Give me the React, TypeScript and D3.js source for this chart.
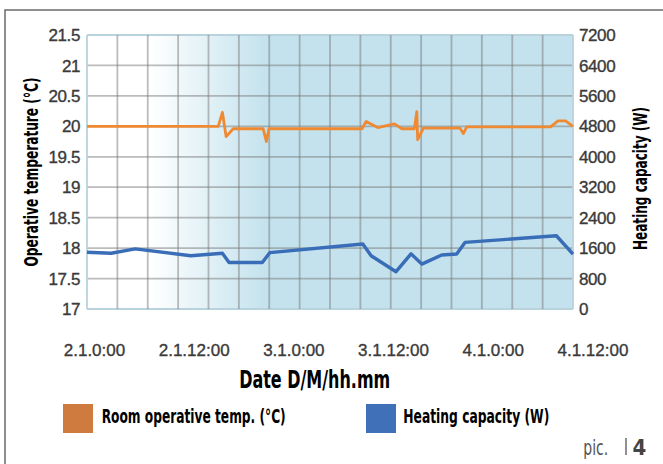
import React from "react";
import * as d3 from "d3";

// ---- data (hours from 2.1 0:00) ----
const tempHours = [-0.9, 14.9, 15.4, 15.85, 16.7, 20.3, 20.7, 21.0, 32.2, 32.7, 34.1, 36.1, 37.0, 38.5, 38.8, 38.9, 39.6, 44.0, 44.4, 44.8, 54.9, 55.8, 56.7, 57.6];
const tempValues = [20.0, 20.0, 20.23, 19.83, 19.96, 19.96, 19.75, 19.96, 19.96, 20.08, 19.98, 20.04, 19.96, 19.96, 20.24, 19.78, 19.97, 19.97, 19.88, 19.99, 19.99, 20.09, 20.09, 20.0];

const heatHours = [-0.9, 2.0, 4.9, 11.6, 15.4, 16.2, 20.2, 21.1, 32.3, 33.3, 36.3, 38.1, 39.4, 41.8, 43.6, 44.6, 55.6, 57.6];
const heatValues = [1490, 1464, 1580, 1400, 1464, 1220, 1220, 1480, 1708, 1400, 980, 1450, 1180, 1420, 1445, 1750, 1925, 1440];

const xTickHours = [0, 12, 24, 36, 48, 60];
const xTickLabels = ["2.1.0:00", "2.1.12:00", "3.1.0:00", "3.1.12:00", "4.1.0:00", "4.1.12:00"];
const leftTicks = [17, 17.5, 18, 18.5, 19, 19.5, 20, 20.5, 21, 21.5];
const rightTicks = [0, 800, 1600, 2400, 3200, 4000, 4800, 5600, 6400, 7200];

const W = 663;
const H = 464;
const plot = { left: 87, right: 573, top: 35, bottom: 309 };

const x = d3.scaleLinear().domain([-0.9, 57.6]).range([plot.left, plot.right]);
const yL = d3.scaleLinear().domain([17, 21.5]).range([plot.bottom, plot.top]);
const yR = d3.scaleLinear().domain([0, 7200]).range([plot.bottom, plot.top]);

const tickFont = "'Liberation Sans', Arial, sans-serif";
const narrowBold = "'Liberation Sans Narrow', 'DejaVu Sans Condensed', Arial, sans-serif";

export default function App() {
  const tempLine = d3
    .line<number>()
    .x((d, i) => x(tempHours[i]))
    .y((d) => yL(d));
  const heatLine = d3
    .line<number>()
    .x((d, i) => x(heatHours[i]))
    .y((d) => yR(d));

  const [d0, d1] = x.domain();
  const vGrid = d3.range(17).map((i) => x(d0 + ((d1 - d0) * i) / 16));

  const tickStyle = {
    fontFamily: tickFont,
    fontSize: 17,
    fill: "#3a3a3a",
    stroke: "#3a3a3a",
    strokeWidth: 0.35,
  } as const;

  return (
    <svg
      width={W}
      height={H}
      style={{ position: "absolute", left: 0, top: 0, background: "#fff" }}
    >
      <defs>
        <linearGradient id="bg" gradientUnits="userSpaceOnUse" x1={150} x2={268} y1={0} y2={0}>
          <stop offset="0" stopColor="#ffffff" />
          <stop offset="1" stopColor="#c3e2ed" />
        </linearGradient>
      </defs>

      {/* frame */}
      <path d={`M5,${H} V10 H${W}`} fill="none" stroke="#6b6b6b" strokeWidth={1.5} />

      {/* plot background */}
      <rect
        x={plot.left}
        y={plot.top}
        width={plot.right - plot.left}
        height={plot.bottom - plot.top}
        fill="url(#bg)"
      />

      {/* grid */}
      {leftTicks.map((t, i) => {
        const edge = i === 0 || i === leftTicks.length - 1;
        return (
          <line
            key={"h" + t}
            x1={plot.left}
            x2={plot.right}
            y1={yL(t)}
            y2={yL(t)}
            stroke={edge ? "#b9d3dc" : "#7a7a7a"}
            strokeOpacity={edge ? 1 : 0.5}
            strokeWidth={1.8}
          />
        );
      })}
      {vGrid.map((gx, i) => {
        const edge = i === 0 || i === vGrid.length - 1;
        return (
          <line
            key={"v" + i}
            x1={gx}
            x2={gx}
            y1={plot.top}
            y2={plot.bottom}
            stroke={edge ? "#b9d3dc" : "#7a7a7a"}
            strokeOpacity={edge ? 1 : 0.5}
            strokeWidth={1.8}
          />
        );
      })}

      {/* series */}
      <path d={heatLine(heatValues) || ""} fill="none" stroke="#3a6db7" strokeWidth={3.4} strokeLinejoin="round" />
      <path d={tempLine(tempValues) || ""} fill="none" stroke="#ef8a32" strokeWidth={2.8} strokeLinejoin="round" />

      {/* left ticks */}
      {leftTicks.map((t) => (
        <text key={"l" + t} x={80} y={yL(t)} dy="0.36em" textAnchor="end" letterSpacing={-0.4} {...tickStyle}>
          {String(t)}
        </text>
      ))}
      {/* right ticks */}
      {rightTicks.map((t) => (
        <text key={"r" + t} x={579} y={yR(t)} dy="0.36em" textAnchor="start" letterSpacing={-0.4} {...tickStyle}>
          {String(t)}
        </text>
      ))}
      {/* x ticks */}
      {xTickHours.map((h, i) => (
        <text key={"x" + h} x={x(h)} y={356} textAnchor="middle" {...tickStyle}>
          {xTickLabels[i]}
        </text>
      ))}

      {/* axis titles */}
      <text
        transform={`translate(38,172) rotate(-90)`}
        textAnchor="middle"
        fontFamily={narrowBold}
        fontWeight="bold"
        fontSize={19}
        fill="#000"
        textLength={189}
        lengthAdjust="spacingAndGlyphs"
      >
        Operative temperature (°C)
      </text>
      <text
        transform={`translate(646.5,178.5) rotate(-90)`}
        textAnchor="middle"
        fontFamily={narrowBold}
        fontWeight="bold"
        fontSize={19.5}
        fill="#000"
        textLength={143}
        lengthAdjust="spacingAndGlyphs"
      >
        Heating capacity (W)
      </text>
      <text
        x={314.7}
        y={388}
        textAnchor="middle"
        fontFamily={narrowBold}
        fontWeight="bold"
        fontSize={25}
        fill="#000"
        textLength={151}
        lengthAdjust="spacingAndGlyphs"
      >
        Date D/M/hh.mm
      </text>

      {/* legend */}
      <rect x={63} y={404} width={30} height={29} fill="#cf7a3e" />
      <text
        x={101.7}
        y={423}
        fontFamily={narrowBold}
        fontWeight="bold"
        fontSize={19.5}
        fill="#000"
        textLength={184}
        lengthAdjust="spacingAndGlyphs"
      >
        Room operative temp. (°C)
      </text>
      <rect x={366} y={404} width={30} height={29} fill="#4070b8" />
      <text
        x={403.3}
        y={423}
        fontFamily={narrowBold}
        fontWeight="bold"
        fontSize={19.5}
        fill="#000"
        textLength={146}
        lengthAdjust="spacingAndGlyphs"
      >
        Heating capacity (W)
      </text>

      {/* pic. 4 */}
      <text
        x={583.3}
        y={455}
        fontFamily={narrowBold}
        fontSize={21}
        fill="#555"
        textLength={25}
        lengthAdjust="spacingAndGlyphs"
      >
        pic.
      </text>
      <line x1={626} x2={626} y1={438} y2={455} stroke="#555" strokeWidth={1.3} />
      <text x={632.5} y={455} fontFamily={narrowBold} fontWeight="bold" fontSize={22} fill="#444">
        4
      </text>
    </svg>
  );
}
